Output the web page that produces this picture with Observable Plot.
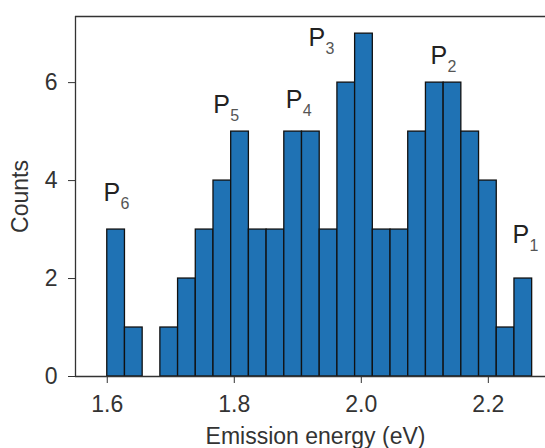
<!DOCTYPE html>
<html>
<head>
<meta charset="utf-8">
<script src="https://cdn.jsdelivr.net/npm/d3@7"></script>
<script src="https://cdn.jsdelivr.net/npm/@observablehq/plot@0.6"></script>
<style>
  html, body { margin: 0; padding: 0; background: #fff; }
  #chart svg { display: block; }
</style>
</head>
<body>
<div id="chart"></div>
<script>
// Histogram counts per bin (24 equal bins from binStart to binEnd)
const counts = [3, 1, 0, 1, 2, 3, 4, 5, 3, 3, 5, 5, 3, 6, 7, 3, 3, 5, 6, 6, 5, 4, 1, 2];
const binStart = 1.6;
const binEnd = 2.269;

// Axes
const xDomain = [1.55, 2.29];
const yDomain = [0, 7.35];
const xTicks = [1.6, 1.8, 2.0, 2.2];
const yTicks = [0, 2, 4, 6];
const xLabel = "Emission energy (eV)";
const yLabel = "Counts";

// Peak annotations
const peakMain = ["P", "P", "P", "P", "P", "P"];
const peakSub = ["6", "5", "4", "3", "2", "1"];
const peakX = [1.594, 1.767, 1.881, 1.917, 2.109, 2.238];
const peakY = [3.59, 5.39, 5.49, 6.75, 6.39, 2.73];

const binW = (binEnd - binStart) / counts.length;
const bins = counts.map((c, i) => ({
  x1: binStart + i * binW,
  x2: binStart + (i + 1) * binW,
  count: c
})).filter(d => d.count > 0);

const peaks = peakMain.map((p, i) => ({main: p, sub: peakSub[i], x: peakX[i], y: peakY[i]}));

const font = "'Liberation Sans', Arial, Helvetica, sans-serif";
const axisColor = "#333";

const chart = Plot.plot({
  width: 545,
  height: 448,
  marginLeft: 75,
  marginRight: 0,
  marginTop: 16,
  marginBottom: 72,
  style: {fontFamily: font, fontSize: "23px", color: "#333", background: "#fff", overflow: "visible"},
  x: {domain: xDomain, ticks: xTicks, tickFormat: d => d.toFixed(1), tickSize: 7, tickPadding: 12, label: null},
  y: {domain: yDomain, ticks: yTicks, tickSize: 7, tickPadding: 11, label: null},
  marks: [
    Plot.rectY(bins, {x1: "x1", x2: "x2", y: "count", fill: "#1f72b4", stroke: "#111", strokeWidth: 1.3}),
    Plot.ruleY([yDomain[0]], {stroke: axisColor, strokeWidth: 1.3}),
    Plot.ruleY([yDomain[1]], {stroke: axisColor, strokeWidth: 1.3}),
    Plot.ruleX([xDomain[0]], {stroke: axisColor, strokeWidth: 1.3}),
    Plot.text(peaks, {x: "x", y: "y", text: "main", textAnchor: "start", lineAnchor: "bottom", fontSize: 25, fill: "#222"}),
    Plot.text(peaks, {x: "x", y: "y", text: "sub", textAnchor: "start", lineAnchor: "bottom", dx: 17, dy: 8, fontSize: 16, fill: "#555"}),
    Plot.text([xLabel], {frameAnchor: "bottom", textAnchor: "middle", lineAnchor: "bottom", dx: 5, dy: 67, fontSize: 23, fill: "#333"}),
    Plot.text([yLabel], {frameAnchor: "left", textAnchor: "middle", lineAnchor: "bottom", rotate: -90, dx: -48, fontSize: 23, fill: "#333"})
  ]
});
document.getElementById("chart").appendChild(chart);
</script>
</body>
</html>
